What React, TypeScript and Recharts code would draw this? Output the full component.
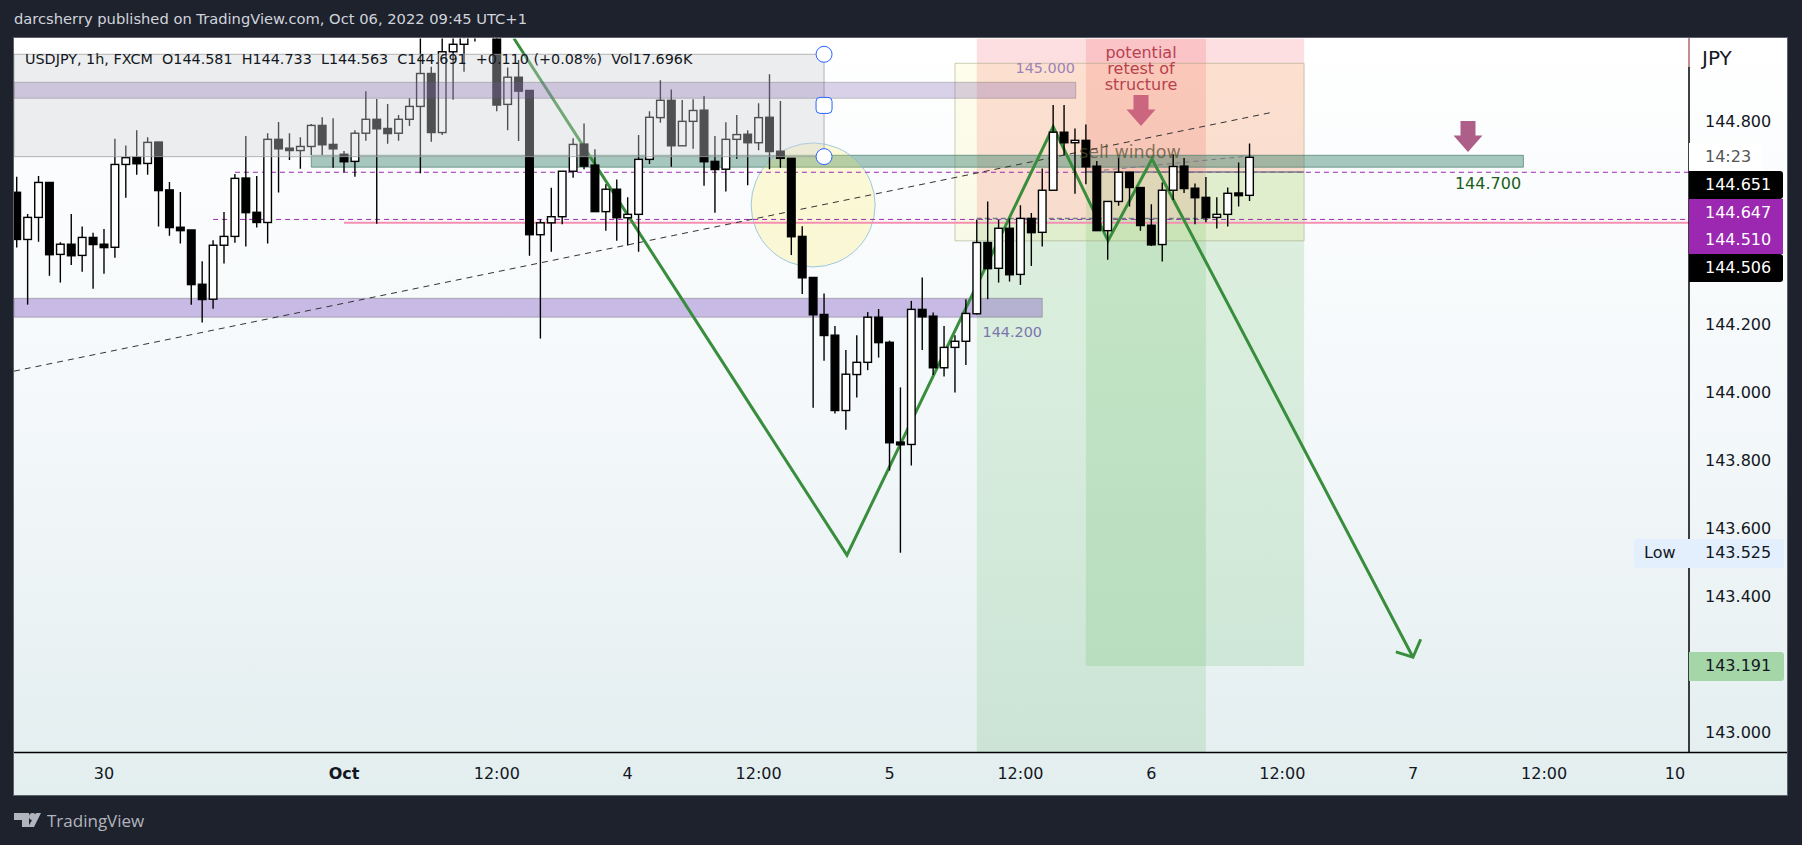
import {
  Bar,
  ComposedChart,
  Line,
  ReferenceArea,
  ReferenceDot,
  ReferenceLine,
  XAxis,
  YAxis,
} from "recharts";

const font = "'DejaVu Sans', sans-serif";

// hourly bars, first one sits 30 hours before the "Oct" tick
const firstHour = -30;
const opens = [
  144.587, 144.448, 144.513, 144.616, 144.404, 144.434, 144.401, 144.454, 144.434, 144.425,
  144.669, 144.69, 144.672, 144.735, 144.594, 144.484, 144.476, 144.316, 144.272, 144.431,
  144.457, 144.629, 144.528, 144.498, 144.743, 144.717, 144.71, 144.722, 144.784, 144.728,
  144.699, 144.678, 144.761, 144.802, 144.775, 144.761, 144.802, 144.84, 144.937, 144.763,
  145.001, 145.023, 145.075, 145.07, 145.09, 144.846, 144.926, 144.887, 144.462, 144.497,
  144.515, 144.649, 144.729, 144.667, 144.53, 144.596, 144.512, 144.522, 144.684, 144.807,
  144.858, 144.724, 144.796, 144.829, 144.678, 144.655, 144.743, 144.758, 144.733, 144.808,
  144.708, 144.687, 144.457, 144.336, 144.227, 144.166, 143.944, 144.05, 144.086, 144.219,
  144.145, 143.851, 143.844, 144.242, 144.222, 144.07, 144.13, 144.148, 144.229, 144.439,
  144.363, 144.481, 144.345, 144.51, 144.469, 144.593, 144.764, 144.733, 144.74, 144.664,
  144.474, 144.56, 144.646, 144.601, 144.49, 144.433, 144.593, 144.664, 144.599, 144.572,
  144.513, 144.522, 144.585, 144.578,
];
const closes = [
  144.448, 144.513, 144.616, 144.403, 144.434, 144.4, 144.454, 144.433, 144.424, 144.669,
  144.689, 144.671, 144.734, 144.592, 144.483, 144.474, 144.315, 144.271, 144.431, 144.457,
  144.628, 144.527, 144.498, 144.743, 144.715, 144.71, 144.722, 144.784, 144.727, 144.715,
  144.677, 144.761, 144.802, 144.774, 144.76, 144.802, 144.84, 144.937, 144.763, 145.001,
  145.023, 145.06, 145.06, 145.09, 144.844, 144.926, 144.885, 144.462, 144.497, 144.515,
  144.649, 144.728, 144.664, 144.53, 144.596, 144.512, 144.522, 144.684, 144.808, 144.858,
  144.724, 144.796, 144.828, 144.677, 144.654, 144.743, 144.757, 144.733, 144.807, 144.707,
  144.687, 144.456, 144.335, 144.226, 144.165, 143.944, 144.051, 144.086, 144.219, 144.144,
  143.849, 143.843, 144.242, 144.22, 144.07, 144.13, 144.148, 144.23, 144.439, 144.362,
  144.481, 144.344, 144.51, 144.468, 144.593, 144.764, 144.733, 144.74, 144.662, 144.474,
  144.56, 144.646, 144.601, 144.489, 144.432, 144.593, 144.663, 144.598, 144.571, 144.512,
  144.522, 144.584, 144.577, 144.69,
];
const highs = [
  144.633, 144.523, 144.635, 144.616, 144.44, 144.523, 144.486, 144.468, 144.479, 144.745,
  144.725, 144.77, 144.749, 144.736, 144.617, 144.588, 144.476, 144.384, 144.446, 144.529,
  144.641, 144.753, 144.635, 144.761, 144.794, 144.761, 144.749, 144.788, 144.808, 144.805,
  144.709, 144.77, 144.885, 144.862, 144.847, 144.815, 144.864, 145.06, 144.957, 145.08,
  145.09, 145.11, 145.1, 145.12, 145.12, 144.955, 144.977, 144.887, 144.507, 144.6,
  144.649, 144.746, 144.79, 144.714, 144.611, 144.625, 144.572, 144.756, 144.826, 144.917,
  144.89, 144.859, 144.861, 144.871, 144.753, 144.793, 144.815, 144.77, 144.849, 144.935,
  144.856, 144.687, 144.487, 144.336, 144.289, 144.193, 144.122, 144.166, 144.234, 144.243,
  144.15, 144.012, 144.267, 144.336, 144.233, 144.193, 144.166, 144.272, 144.507, 144.56,
  144.505, 144.51, 144.549, 144.526, 144.657, 144.844, 144.844, 144.775, 144.787, 144.679,
  144.56, 144.688, 144.646, 144.601, 144.552, 144.616, 144.699, 144.688, 144.613, 144.632,
  144.572, 144.601, 144.675, 144.731,
];
const lows = [
  144.424, 144.256, 144.441, 144.341, 144.321, 144.373, 144.353, 144.303, 144.347, 144.394,
  144.571, 144.639, 144.639, 144.486, 144.459, 144.436, 144.256, 144.203, 144.244, 144.377,
  144.438, 144.427, 144.483, 144.436, 144.586, 144.682, 144.656, 144.697, 144.697, 144.659,
  144.646, 144.633, 144.739, 144.494, 144.73, 144.739, 144.782, 144.643, 144.736, 144.756,
  144.86, 144.942, 145.031, 145.05, 144.826, 144.77, 144.738, 144.4, 144.156, 144.412,
  144.493, 144.63, 144.655, 144.53, 144.474, 144.444, 144.43, 144.412, 144.67, 144.792,
  144.662, 144.724, 144.715, 144.606, 144.527, 144.589, 144.686, 144.608, 144.711, 144.655,
  144.659, 144.402, 144.287, 143.952, 144.091, 143.935, 143.887, 143.982, 144.063, 144.1,
  143.767, 143.525, 143.782, 144.122, 144.049, 144.044, 143.997, 144.078, 144.227, 144.272,
  144.321, 144.324, 144.314, 144.37, 144.427, 144.593, 144.697, 144.583, 144.611, 144.474,
  144.388, 144.547, 144.545, 144.474, 144.429, 144.383, 144.564, 144.585, 144.493, 144.499,
  144.48, 144.486, 144.545, 144.561,
];

const candles = opens.map((o, i) => ({
  t: firstHour + i,
  o,
  c: closes[i],
  h: highs[i],
  l: lows[i],
  range: [lows[i], highs[i]],
}));

const priceTicks = [144.8, 144.2, 144.0, 143.8, 143.6, 143.4, 143.0];
const timeTicks = [-22, 0, 14, 26, 38, 50, 62, 74, 86, 98, 110, 122];
const timeLabels = ["30", "Oct", "12:00", "4", "12:00", "5", "12:00", "6", "12:00", "7", "12:00", "10"];

const tMin = -30.25;
const tMax = 123.28;
const pMin = 142.9364;
const pMax = 145.0401;

// drawn path and its arrow head
const zigzag = [
  { t: 15.58, p: 145.04 },
  { t: 46.1, p: 143.518 },
  { t: 65.0, p: 144.78 },
  { t: 70.03, p: 144.444 },
  { t: 74.06, p: 144.685 },
  { t: 97.98, p: 143.217 },
];
const arrowHead = [
  { t: 96.41, p: 143.233 },
  { t: 97.98, p: 143.217 },
  { t: 98.69, p: 143.27 },
];

function Candle(props: any) {
  const { x, y, width, height, payload } = props;
  const { o, c, h, l } = payload;
  const unit = Math.abs(height) / (h - l);
  const mid = x + width / 2;
  const top = y + (h - Math.max(o, c)) * unit;
  const bodyHeight = Math.max(Math.abs(o - c) * unit, 1.5);
  return (
    <g>
      <line x1={mid} x2={mid} y1={y} y2={y + Math.abs(height)} stroke="#000" strokeWidth={1.4} />
      <rect
        x={mid - 3.8}
        y={top}
        width={7.6}
        height={bodyHeight}
        fill={c >= o ? "#fff" : "#000"}
        stroke="#000"
        strokeWidth={1.4}
      />
    </g>
  );
}

function TimeTick(props: any) {
  const { x, y, payload } = props;
  const label = timeLabels[timeTicks.indexOf(payload.value)];
  return (
    <text
      x={x}
      y={y}
      dy={5}
      textAnchor="middle"
      fontSize={16}
      fontFamily={font}
      fill="#131722"
      fontWeight={label === "Oct" ? 700 : 400}
    >
      {label}
    </text>
  );
}

function DownArrow(props: any) {
  const { cx, cy, fill } = props;
  const pts = [
    [-7.5, -15.5],
    [7.5, -15.5],
    [7.5, -1],
    [14.5, -1],
    [0, 15.5],
    [-14.5, -1],
    [-7.5, -1],
  ]
    .map(([a, b]) => `${cx + a},${cy + b}`)
    .join(" ");
  return <polygon points={pts} fill={fill} />;
}

function SquareHandle(props: any) {
  const { cx, cy } = props;
  return (
    <rect x={cx - 8} y={cy - 8} width={16} height={16} rx={4} fill="#fff" stroke="#2962ff" strokeWidth={1} />
  );
}

function Tag(props: {
  left: number;
  top: number;
  width: number;
  height: number;
  bg: string;
  color: string;
  text: string;
  pad?: number;
  radius?: string;
}) {
  return (
    <div
      style={{
        position: "absolute",
        left: props.left,
        top: props.top,
        width: props.width,
        height: props.height,
        lineHeight: props.height + "px",
        background: props.bg,
        color: props.color,
        paddingLeft: props.pad ?? 16,
        boxSizing: "border-box",
        borderRadius: props.radius ?? "0 3px 3px 0",
        fontSize: 16,
        whiteSpace: "nowrap",
      }}
    >
      {props.text}
    </div>
  );
}

function Note(props: { x: number; y: number; color: string; text: string; size?: number; anchor?: string }) {
  const shift = props.anchor === "right" ? "-100%" : props.anchor === "left" ? "0" : "-50%";
  return (
    <div
      style={{
        position: "absolute",
        left: props.x,
        top: props.y,
        transform: `translate(${shift}, -50%)`,
        color: props.color,
        fontSize: props.size ?? 16,
        whiteSpace: "nowrap",
      }}
    >
      {props.text}
    </div>
  );
}

export default function App() {
  return (
    <div
      style={{
        position: "absolute",
        left: 0,
        top: 0,
        width: 1802,
        height: 845,
        background: "#1e222d",
        fontFamily: font,
        overflow: "hidden",
      }}
    >
      <div style={{ position: "absolute", left: 14, top: 10, color: "#d1d4dc", fontSize: 14.7, whiteSpace: "nowrap" }}>
        darcsherry published on TradingView.com, Oct 06, 2022 09:45 UTC+1
      </div>

      <div
        style={{
          position: "absolute",
          left: 14,
          top: 38,
          width: 1773,
          height: 757,
          background: "linear-gradient(180deg, #ffffff 0%, #f4f8fa 50%, #e3eeef 100%)",
          boxShadow: "0 0 0 1px #5d606b",
        }}
      />

      <div style={{ position: "absolute", left: 0, top: 0 }}>
        <ComposedChart
          width={1802}
          height={845}
          data={candles}
          margin={{ top: 38.5, left: 14, right: 15, bottom: 50 }}
        >
          <XAxis
            dataKey="t"
            type="number"
            domain={[tMin, tMax]}
            allowDataOverflow
            ticks={timeTicks}
            interval={0}
            height={42.5}
            tick={<TimeTick />}
            tickLine={false}
            tickMargin={15}
            axisLine={{ stroke: "#000", strokeWidth: 1.5 }}
          />
          <YAxis
            type="number"
            orientation="right"
            domain={[pMin, pMax]}
            allowDataOverflow
            ticks={priceTicks}
            interval={0}
            width={98}
            tickSize={0}
            tickMargin={16}
            tickLine={false}
            tickFormatter={(v: number) => v.toFixed(3)}
            tick={{ fontSize: 16, fontFamily: font, fill: "#131722", textAnchor: "start", dy: 1 }}
            axisLine={{ stroke: "#000", strokeWidth: 1.5 }}
          />

          {/* short positions, sit under the candles */}
          <ReferenceArea x1={58} x2={79} y1={144.51} y2={pMax} ifOverflow="hidden" fill="#f23645" fillOpacity={0.16} strokeOpacity={0} zIndex={10} />
          <ReferenceArea x1={58} x2={79} y1={pMin} y2={144.51} ifOverflow="hidden" fill="#4caf50" fillOpacity={0.17} strokeOpacity={0} zIndex={10} />
          <ReferenceArea x1={68} x2={88} y1={144.647} y2={pMax} ifOverflow="hidden" fill="#f23645" fillOpacity={0.16} strokeOpacity={0} zIndex={10} />
          <ReferenceArea x1={68} x2={88} y1={143.191} y2={144.647} ifOverflow="hidden" fill="#4caf50" fillOpacity={0.17} strokeOpacity={0} zIndex={10} />

          <ReferenceArea x1={56} x2={88} y1={144.444} y2={144.967} ifOverflow="hidden" fill="#ffeb3b" fillOpacity={0.1} stroke="#9e9e7a" strokeOpacity={0.5} zIndex={11} />

          <ReferenceArea x1={tMin} x2={64} y1={144.219} y2={144.2746} ifOverflow="hidden" fill="#673ab7" fillOpacity={0.33} stroke="#555" strokeOpacity={0.35} zIndex={12} />
          <ReferenceArea x1={-3} x2={108.1} y1={144.661} y2={144.696} ifOverflow="hidden" fill="#2f7d66" fillOpacity={0.42} stroke="#4a7f6e" strokeOpacity={0.7} zIndex={12} />

          <ReferenceDot x={43} y={144.5496} r={62} fill="#ffeb3b" fillOpacity={0.2} stroke="#7fb6dd" strokeOpacity={0.75} ifOverflow="hidden" zIndex={13} />

          <ReferenceLine segment={[{ x: 0, y: 144.497 }, { x: tMax, y: 144.497 }]} stroke="#f48fb1" strokeWidth={2} ifOverflow="hidden" zIndex={14} />
          <ReferenceLine segment={[{ x: -10, y: 144.646 }, { x: tMax, y: 144.646 }]} stroke="#9c27b0" strokeWidth={1} strokeDasharray="5 4" ifOverflow="hidden" zIndex={15} />
          <ReferenceLine segment={[{ x: -12, y: 144.507 }, { x: tMax, y: 144.507 }]} stroke="#9c27b0" strokeWidth={1} strokeDasharray="5 4" ifOverflow="hidden" zIndex={15} />
          <ReferenceLine segment={[{ x: tMin, y: 144.06 }, { x: 84.9, y: 144.8215 }]} stroke="#333" strokeWidth={1} strokeDasharray="6 5" ifOverflow="hidden" zIndex={15} />

          {/* entry lines and paths of the two positions */}
          <ReferenceLine segment={[{ x: 58, y: 144.51 }, { x: 79, y: 144.51 }]} stroke="#787b86" strokeWidth={1.5} strokeDasharray="5 3" ifOverflow="hidden" zIndex={15} />
          <ReferenceLine segment={[{ x: 68, y: 144.647 }, { x: 88, y: 144.647 }]} stroke="#787b86" strokeWidth={1.5} ifOverflow="hidden" zIndex={15} />
          <ReferenceLine segment={[{ x: 68, y: 144.647 }, { x: 82.7, y: 144.693 }]} stroke="#787b86" strokeWidth={1} strokeDasharray="5 4" ifOverflow="hidden" zIndex={15} />

          <Line
            data={zigzag}
            dataKey="p"
            type="linear"
            stroke="#388e3c"
            strokeWidth={3}
            dot={false}
            activeDot={false}
            isAnimationActive={false}
            zIndex={20}
          />
          <Line
            data={arrowHead}
            dataKey="p"
            type="linear"
            stroke="#388e3c"
            strokeWidth={3}
            dot={false}
            activeDot={false}
            isAnimationActive={false}
            zIndex={20}
          />

          <Bar
            dataKey="range"
            barSize={9}
            shape={<Candle />}
            isAnimationActive={false}
            zIndex={30}
          />

          {/* grey box stays above the candles, they show faded in it */}
          <ReferenceArea x1={tMin} x2={44} y1={144.692} y2={144.9936} ifOverflow="hidden" fill="rgb(207,209,212)" fillOpacity={0.38} stroke="#9e9e9e" strokeOpacity={0.75} zIndex={40} />
          <ReferenceArea x1={tMin} x2={67.07} y1={144.864} y2={144.911} ifOverflow="hidden" fill="rgb(118,88,170)" fillOpacity={0.27} stroke="#555" strokeOpacity={0.3} zIndex={40} />
          <ReferenceDot x={44} y={144.9936} r={8} fill="#fff" stroke="#2962ff" ifOverflow="hidden" zIndex={41} />
          <ReferenceDot x={44} y={144.843} r={8} shape={<SquareHandle />} ifOverflow="hidden" zIndex={41} />
          <ReferenceDot x={44} y={144.692} r={8} fill="#fff" stroke="#2962ff" ifOverflow="hidden" zIndex={41} />
        </ComposedChart>
      </div>

      <svg width={1802} height={845} style={{ position: "absolute", left: 0, top: 0, pointerEvents: "none" }}>
        <DownArrow cx={1141} cy={110.5} fill="#cc6680" />
        <DownArrow cx={1468} cy={136.5} fill="#ad5f8a" />
        <line x1={1689} x2={1787} y1={752.5} y2={752.5} stroke="#000" strokeWidth={1.5} />
        <line x1={1689} x2={1689} y1={38.5} y2={67} stroke="#f4a6a6" strokeWidth={1.5} />
        <g fill="#b2b5be">
          <polygon points="14,813 29,813 29,827 22,827 22,820 14,820" />
          <circle cx={32.5} cy={816.5} r={3.5} />
          <polygon points="36,813 41,813 34,827 28,827" />
        </g>
      </svg>

      {/* legend and drawing captions */}
      <div
        style={{
          position: "absolute",
          left: 25,
          top: 59,
          transform: "translateY(-50%)",
          color: "#131722",
          fontSize: 14.35,
          whiteSpace: "pre",
        }}
      >
        {"USDJPY, 1h, FXCM  O144.581  H144.733  L144.563  C144.691  +0.110 (+0.08%)  Vol17.696K"}
      </div>
      <Note x={1075} y={68} color="#9b83b8" text="145.000" anchor="right" size={14.4} />
      <Note x={1042} y={332} color="#7a75ad" text="144.200" anchor="right" size={14.4} />
      <Note x={1488} y={183} color="#1b5e20" text="144.700" />
      <Note x={1141} y={52} color="#b7424f" text="potential" />
      <Note x={1141} y={68} color="#b7424f" text="retest of" />
      <Note x={1141} y={84} color="#b7424f" text="structure" />
      <Note x={1130} y={152} color="rgba(80,80,50,0.72)" text="sell window" size={17.5} />

      {/* price scale labels */}
      <Note x={1702} y={58} color="#131722" text="JPY" size={20} anchor="left" />
      <Tag left={1689} top={143} width={73} height={28} bg="#ffffff" color="#555" text="14:23" radius="0" />
      <Tag left={1689} top={171} width={94} height={27.5} bg="#000" color="#fff" text="144.651" />
      <Tag left={1689} top={198.5} width={94} height={27.5} bg="#9c27b0" color="#fff" text="144.647" radius="0" />
      <Tag left={1689} top={226} width={94} height={28} bg="#9c27b0" color="#fff" text="144.510" radius="0" />
      <Tag left={1689} top={254} width={94} height={27.5} bg="#000" color="#fff" text="144.506" />
      <Tag left={1634} top={539.3} width={55} height={28.4} bg="#e3effd" color="#131722" text="Low" pad={10} radius="3px 0 0 3px" />
      <Tag left={1689} top={539.3} width={94.5} height={28.4} bg="#e3effd" color="#131722" text="143.525" />
      <Tag left={1689} top={652} width={94.5} height={28.7} bg="#a5d6a7" color="#131722" text="143.191" />

      <div
        style={{
          position: "absolute",
          left: 47,
          top: 809,
          color: "#b2b5be",
          fontSize: 17,
          fontFamily: "'Open Sans', sans-serif",
          whiteSpace: "nowrap",
        }}
      >
        TradingView
      </div>
    </div>
  );
}
